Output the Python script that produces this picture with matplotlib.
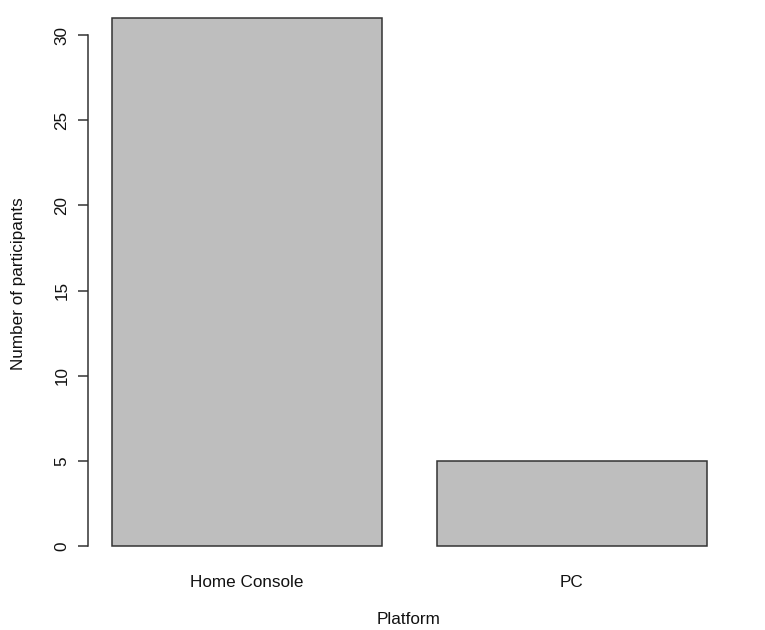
import matplotlib
matplotlib.use("Agg")
import matplotlib.pyplot as plt

categories = ["Home Console", "PC"]
counts = [31, 5]
yticks = [0, 5, 10, 15, 20, 25, 30]

plt.rcParams['font.family'] = ['Liberation Sans', 'DejaVu Sans']
FS = 12.3

W, H = 765, 630
fig = plt.figure(figsize=(W / 100, H / 100), dpi=100)
fig.patch.set_facecolor('white')

# R barplot geometry: width 1, space 0.2
lefts = [0.2 + i * 1.2 for i in range(len(categories))]
centers = [l + 0.5 for l in lefts]
xlim = (0.112, 2.488)
ylim = (-1.24, 32.24)

# axes pixel box
x0, x1 = 88, 731
ppu = 17.03
y_zero = 546
top_px = y_zero - ylim[1] * ppu
bot_px = y_zero - ylim[0] * ppu
ax = fig.add_axes([x0 / W, 1 - bot_px / H, (x1 - x0) / W, (bot_px - top_px) / H])
ax.set_facecolor('none')

ax.bar(centers, counts, width=1.0, color='#BEBEBE', edgecolor='#333333', linewidth=1.1)
ax.set_xlim(*xlim)
ax.set_ylim(*ylim)

for s in ['top', 'right', 'bottom']:
    ax.spines[s].set_visible(False)
ax.spines['left'].set_bounds(0, 30)
ax.spines['left'].set_color('#333333')
ax.spines['left'].set_linewidth(1.1)

ax.set_yticks(yticks)
ax.set_yticklabels([str(t) for t in yticks], rotation=90, va='center', fontsize=FS)
ax.tick_params(axis='y', length=7.5, width=1.1, color='#333333', pad=6, labelcolor='#111111')

ax.set_xticks(centers)
ax.set_xticklabels(categories, fontsize=FS, color='#111111')
ax.tick_params(axis='x', length=0, pad=5.5)

ax.set_xlabel("Platform", fontsize=FS, color='#111111')
ax.xaxis.set_label_coords(409 / W, 1 - 620 / H, transform=fig.transFigure)
ax.xaxis.label.set_va('center')
ax.set_ylabel("Number of participants", fontsize=FS, color='#111111')
ax.yaxis.set_label_coords(19 / W, 1 - 284 / H, transform=fig.transFigure)
ax.yaxis.label.set_va('center')

fig.savefig("out.png", dpi=100)
